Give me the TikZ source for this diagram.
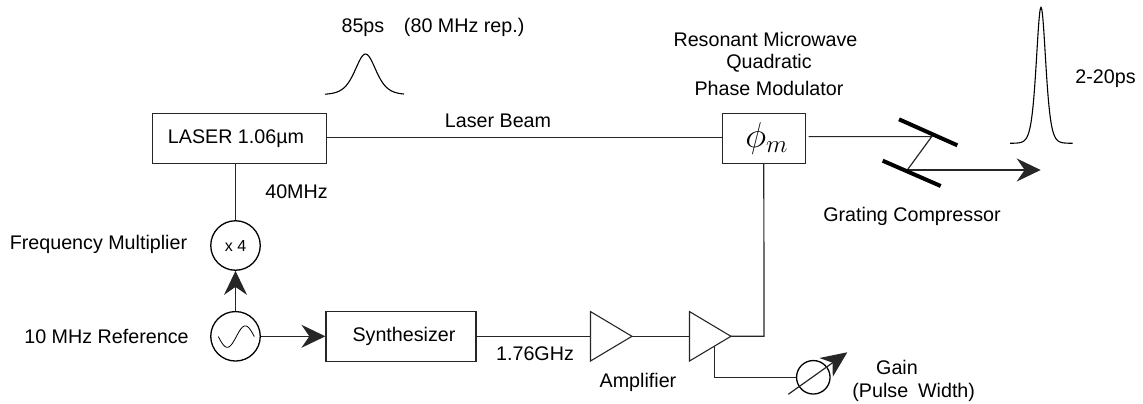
\documentclass[tikz,border=0pt]{standalone}
\usepackage{fontspec}
\setmainfont{Liberation Sans}
\usetikzlibrary{arrows.meta,shapes.geometric}
\tikzset{
  wire/.style={line width=1.2pt,draw=black!85},
  arrowwire/.style={wire,-{Stealth[length=24pt,width=23pt,inset=8pt]}},
  box/.style={draw=black!85,line width=1.2pt,rectangle,inner sep=0pt,font=\lbl},
  disc/.style={draw=black,line width=1.3pt,circle,inner sep=0pt,minimum size=49.5pt},
  amp/.style={draw=black!85,line width=1.1pt,isosceles triangle,isosceles triangle stretches=true,
    inner sep=0pt,minimum width=49.5pt,minimum height=41.5pt,outer sep=0pt},
  grating/.style={line width=4pt,line cap=butt},
  txt/.style={font=\lbl,inner sep=0pt,align=center},
  pulse/.style={line width=1.1pt,smooth,samples=70}
}
\newcommand{\lbl}{\fontsize{19.7}{24}\selectfont}
\begin{document}
\begin{tikzpicture}[x=1pt,y=-1pt]
\useasboundingbox (0,0) rectangle (1143,404);
% boxes
\node[box,minimum width=173.5pt,minimum height=50pt] (laser) at (239.5,138.3) {\kern-7pt LASER 1.06µm};
\node[box,minimum width=83pt,minimum height=50pt] (mod) at (763.8,138.3) {\kern6pt\raisebox{3pt}{\scalebox{1.73}{$\phi_m$}}};
\node[box,minimum width=150pt,minimum height=50pt] (synth) at (401,336.3) {\kern6pt\raisebox{3pt}{Synthesizer}};
\node[disc,font=\fontsize{16}{18}\selectfont] (mult) at (235.5,245.5) {x 4};
\node[disc] (osc) at (235.5,336.3) {};
\node[disc,minimum size=33.5pt] (gain) at (813.3,377.3) {};
\node[amp] (amp1) at (604.5,336.3) {};
\node[amp] (amp2) at (703.5,336.3) {};
% coordinates
\coordinate (amp1in) at (590.3,336.3);
\coordinate (amp2in) at (689.3,336.3);
\coordinate (lasertap) at (235.5,163.3);
\coordinate (g1a) at (899,119.3);
\coordinate (g1b) at (957.3,145.3);
\coordinate (g2a) at (882.7,160.7);
\coordinate (g2b) at (940.7,186);
\coordinate (hit1) at (931.7,136.6);
\coordinate (hit2) at (907.3,170);
\coordinate (out) at (1040.7,170);
\coordinate (modout) at (808.7,136.6);
\coordinate (bend) at (764,336.3);
\coordinate (amptap) at (714.3,345.7);
\coordinate (gainbend) at (714.3,377.3);
\coordinate (gs) at (788.3,394.3);
\coordinate (ge) at (847.3,352.3);
% connectors
\draw[wire] (laser.east |- 0,137.6) -- (mod.west |- 0,137.6);
\draw[wire] (lasertap) -- (mult.north);
\draw[arrowwire] (osc.north) -- (mult.south);
\draw[arrowwire] (osc.east) -- (synth.west);
\draw[wire] (synth.east) -- (amp1in);
\draw[wire] (amp1.apex) -- (amp2in);
\draw[wire] (amp2.apex) -- (bend) -- (mod.south);
\draw[wire] (amptap) -- (gainbend) -- (gain.west);
\draw[wire,-{Stealth[length=26pt,width=23pt,inset=8pt]}] (gs) -- (ge);
\draw[wire] (modout) -- (hit1) -- (hit2);
\draw[arrowwire] (hit2) -- (out);
\draw[grating] (g1a) -- (g1b);
\draw[grating] (g2a) -- (g2b);
% oscillator sine
\draw[line width=0.8pt,smooth,samples=50,domain=218.3:254.3]
  plot (\x,{336.6+10.7*sin((\x-218.3)*10)});
% pulses
\draw[pulse,domain=325:404] plot (\x,{94.7-40.7/(cosh((\x-365.5)/14)^2)});
\draw[pulse,domain=1010:1072.7] plot (\x,{143.3-136/(cosh((\x-1041)/6.3)^2)});
% labels
\node[txt] (t1) at (433,27) {85ps\hspace{1em}(80 MHz rep.)};
\node[txt] (t2) at (498,121) {Laser Beam};
\node[txt] (t3) at (765.5,39) {Resonant Microwave};
\node[txt] (t4) at (769,63) {Quadratic};
\node[txt] (t5) at (769,88) {Phase Modulator};
\node[txt] (t6) at (1105.5,79) {2-20ps};
\node[txt] (t7) at (296.5,192) {40MHz};
\node[txt] (t8) at (98.5,244) {Frequency Multiplier};
\node[txt] (t9) at (106.5,336) {10 MHz Reference};
\node[txt] (t10) at (912,216) {Grating Compressor};
\node[txt] (t11) at (535,354) {1.76GHz};
\node[txt] (t12) at (638,382) {Amplifier};
\node[txt] (t13) at (897,367) {Gain};
\node[txt] (t14) at (913.7,392) {(Pulse\hspace{0.5em}Width)};
\end{tikzpicture}
\end{document}
